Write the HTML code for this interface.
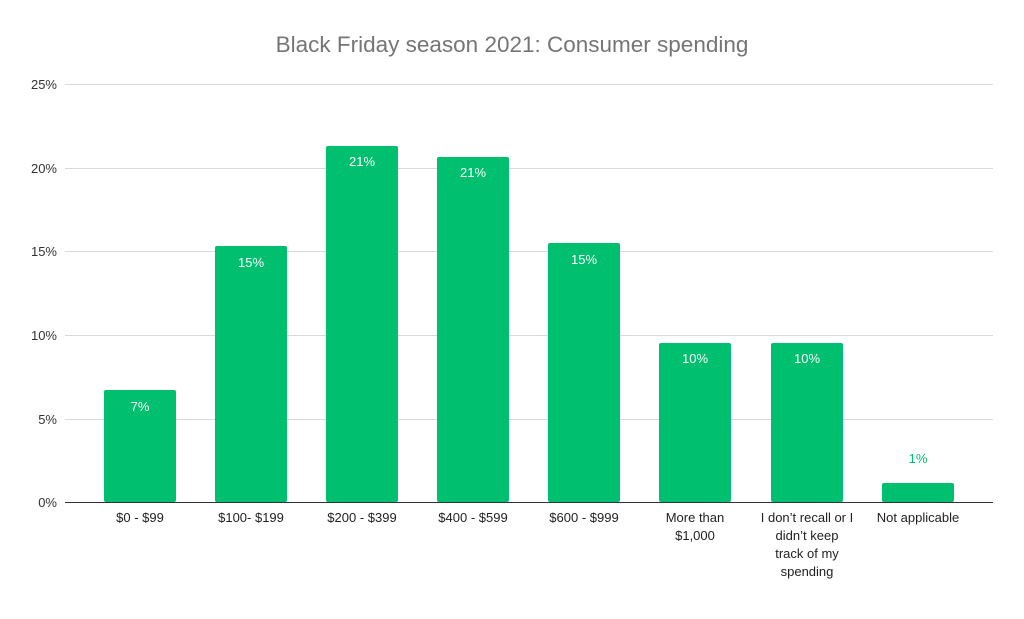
<!DOCTYPE html>
<html><head><meta charset="utf-8"><style>
body{margin:0;background:#fff}
svg text{font-family:"Liberation Sans",sans-serif}
</style></head><body>
<svg width="1024" height="614" xmlns="http://www.w3.org/2000/svg">
<rect width="1024" height="614" fill="#fff"/>
<text x="512" y="52" text-anchor="middle" font-size="22.5" fill="#757575">Black Friday season 2021: Consumer spending</text>
<g stroke="#d9d9d9" stroke-width="1">
<line x1="65" x2="993" y1="84.5" y2="84.5"/>
<line x1="65" x2="993" y1="168.5" y2="168.5"/>
<line x1="65" x2="993" y1="251.5" y2="251.5"/>
<line x1="65" x2="993" y1="335.5" y2="335.5"/>
<line x1="65" x2="993" y1="419.5" y2="419.5"/>
</g>
<g font-size="13" fill="#333" text-anchor="end">
<text x="57" y="89">25%</text><text x="57" y="173">20%</text><text x="57" y="256">15%</text>
<text x="57" y="340">10%</text><text x="57" y="424">5%</text><text x="57" y="507">0%</text>
</g>
<g fill="#00bf6f">
<rect x="104" y="390" width="72" height="112" rx="2"/>
<rect x="215" y="246" width="72" height="256" rx="2"/>
<rect x="326" y="146" width="72" height="356" rx="2"/>
<rect x="437" y="157" width="72" height="345" rx="2"/>
<rect x="548" y="243" width="72" height="259" rx="2"/>
<rect x="659" y="343" width="72" height="159" rx="2"/>
<rect x="771" y="343" width="72" height="159" rx="2"/>
<rect x="882" y="483" width="72" height="19" rx="2"/>
</g>
<line x1="65" x2="993" y1="502.5" y2="502.5" stroke="#333" stroke-width="1"/>
<g font-size="13" fill="#fff" text-anchor="middle">
<text x="140" y="411">7%</text><text x="251" y="267">15%</text><text x="362" y="166">21%</text>
<text x="473" y="177">21%</text><text x="584" y="264">15%</text><text x="695" y="363">10%</text>
<text x="807" y="363">10%</text>
</g>
<text x="918" y="463" font-size="13" fill="#00bf6f" text-anchor="middle">1%</text>
<g font-size="13" fill="#222" text-anchor="middle">
<text x="140" y="522">$0 - $99</text><text x="251" y="522">$100- $199</text><text x="362" y="522">$200 - $399</text>
<text x="473" y="522">$400 - $599</text><text x="584" y="522">$600 - $999</text>
<text x="695" y="522">More than</text><text x="695" y="540">$1,000</text>
<text x="807" y="522">I don’t recall or I</text><text x="807" y="540">didn’t keep</text><text x="807" y="558">track of my</text><text x="807" y="576">spending</text>
<text x="918" y="522">Not applicable</text>
</g>
</svg>
</body></html>
